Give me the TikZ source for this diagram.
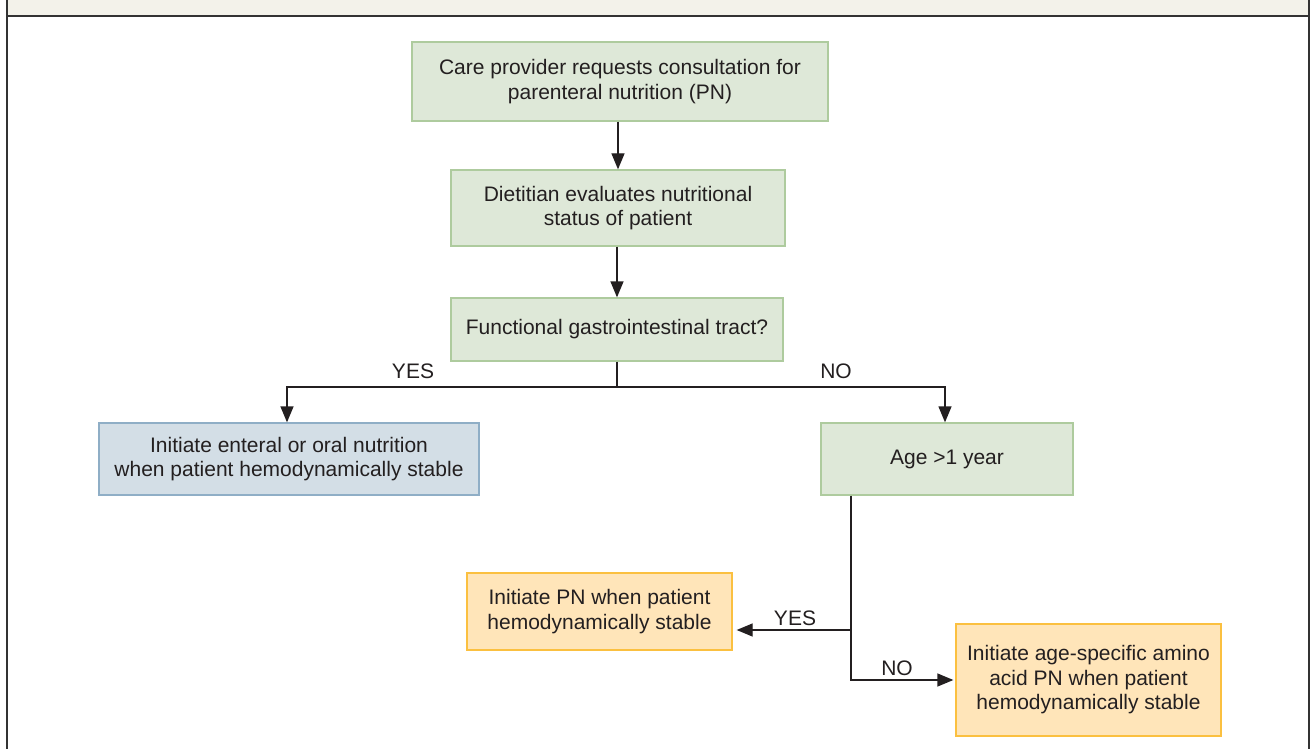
\documentclass[tikz,border=0pt]{standalone}
\usepackage{fontspec}
\setmainfont{Liberation Sans}
\usetikzlibrary{arrows.meta}
\definecolor{txt}{HTML}{231F20}
\definecolor{gfill}{HTML}{DEE8D8}
\definecolor{gdraw}{HTML}{AECB9E}
\definecolor{bfill}{HTML}{D3DEE6}
\definecolor{bdraw}{HTML}{8FAEC6}
\definecolor{ofill}{HTML}{FFE5B9}
\definecolor{odraw}{HTML}{FBC040}
\definecolor{hfill}{HTML}{F3F2EA}
\definecolor{frame}{HTML}{333333}
\tikzset{
  box/.style={rectangle, line width=1.3pt, align=center, inner sep=0pt,
    font=\fontsize{21}{24.5}\selectfont, text=txt},
  gbox/.style={box, fill=gfill, draw=gdraw},
  bbox/.style={box, fill=bfill, draw=bdraw},
  obox/.style={box, fill=ofill, draw=odraw},
  lbl/.style={font=\fontsize{21}{24}\selectfont, text=txt, inner sep=0pt},
  arr/.style={line width=1.3pt, draw=txt, -{Triangle[length=16pt,width=13pt]}},
  ln/.style={line width=1.3pt, draw=txt}
}
\begin{document}
\begin{tikzpicture}[x=1pt,y=-1pt]
\useasboundingbox (0,0) rectangle (1310,749);
% frame and header
\fill[hfill] (7,0) rectangle (1309,16);
\draw[frame, line width=2pt] (7,16) -- (1309,16);
\draw[frame, line width=2pt] (7,0) -- (7,749);
\draw[frame, line width=2pt] (1309,0) -- (1309,749);
% nodes
\node[gbox, minimum width=416pt, minimum height=79pt] (b1) at (620,81.5)
  {Care provider requests consultation for\\parenteral nutrition (PN)};
\node[gbox, minimum width=334pt, minimum height=76pt] (b2) at (618,208)
  {Dietitian evaluates nutritional\\status of patient};
\node[gbox, minimum width=332pt, minimum height=63pt] (b3) at (617,329.5)
  {Functional gastrointestinal tract?};
\node[bbox, minimum width=380pt, minimum height=72pt] (en) at (289,459)
  {Initiate enteral or oral nutrition\\when patient hemodynamically stable};
\node[gbox, minimum width=252pt, minimum height=72pt] (age) at (947,459)
  {Age >1 year};
\node[obox, minimum width=265pt, minimum height=77pt] (pn) at (599.5,611.5)
  {Initiate PN when patient\\hemodynamically stable};
\node[obox, minimum width=265pt, minimum height=112pt] (aa) at (1088.5,680)
  {Initiate age-specific amino\\acid PN when patient\\hemodynamically stable};
% connectors
\draw[arr] (b2.north |- b1.south) -- (b2.north);
\draw[arr] (b3.north |- b2.south) -- (b3.north);
\coordinate (br) at (617,387);
\draw[ln] (b3.south) -- (br);
\draw[arr] (br) -| ([xshift=-2pt]en.north);
\draw[arr] (br) -| ([xshift=-2pt]age.north);
\coordinate (j1) at (851,630);
\draw[ln] (age.south -| j1) -- (j1);
\draw[arr, shorten >=4pt] (j1) -- (pn.east |- j1);
\draw[arr, shorten >=2pt] (j1) |- (aa.west);
% labels
\node[lbl] (ly1) at (413,371) {YES};
\node[lbl] (ln1) at (836,371) {NO};
\node[lbl] (ly2) at (795,618) {YES};
\node[lbl] (ln2) at (897,668) {NO};
\end{tikzpicture}
\end{document}
